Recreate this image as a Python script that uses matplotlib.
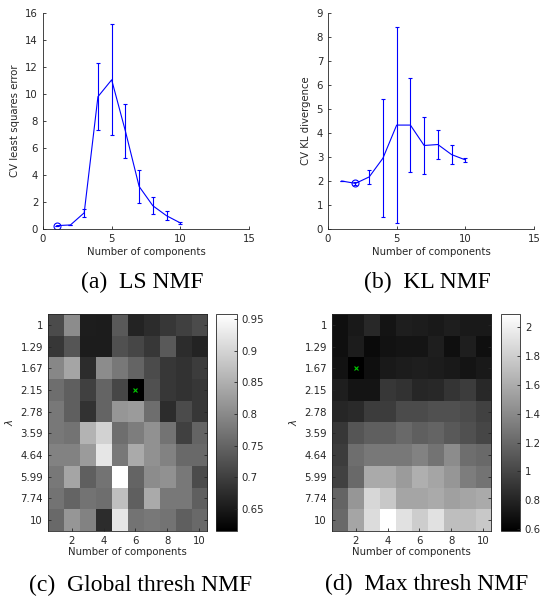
import numpy as np
import matplotlib
matplotlib.use("Agg")
import matplotlib.pyplot as plt

plt.rc("font", family="DejaVu Sans", size=7.3)

# ---- (a) LS NMF
n_comp = [1, 2, 3, 4, 5, 6, 7, 8, 9, 10]
ls_err = [0.25, 0.3, 1.2, 9.8, 11.05, 7.25, 3.15, 1.72, 0.98, 0.45]
ls_sd = [0.0, 0.02, 0.28, 2.5, 4.1, 2.0, 1.2, 0.63, 0.35, 0.05]
ls_best = 1

# ---- (b) KL NMF
kl_err = [2.0, 1.9, 2.17, 2.95, 4.33, 4.33, 3.48, 3.52, 3.1, 2.88]
kl_sd = [0.0, 0.05, 0.28, 2.47, 4.09, 1.96, 1.2, 0.62, 0.4, 0.07]
kl_best = 2

# ---- heatmaps
lambdas = ["1", "1.29", "1.67", "2.15", "2.78", "3.59", "4.64", "5.99", "7.74", "10"]

global_thresh = np.array([
    [0.716, 0.803, 0.655, 0.653, 0.736, 0.662, 0.676, 0.689, 0.702, 0.716],
    [0.689, 0.729, 0.653, 0.653, 0.723, 0.709, 0.689, 0.736, 0.676, 0.662],
    [0.797, 0.837, 0.676, 0.803, 0.776, 0.750, 0.716, 0.689, 0.682, 0.696],
    [0.763, 0.743, 0.702, 0.750, 0.709, 0.615, 0.723, 0.689, 0.682, 0.689],
    [0.776, 0.743, 0.682, 0.750, 0.817, 0.823, 0.763, 0.676, 0.716, 0.689],
    [0.776, 0.770, 0.857, 0.897, 0.763, 0.783, 0.810, 0.770, 0.702, 0.750],
    [0.790, 0.790, 0.823, 0.924, 0.776, 0.844, 0.810, 0.790, 0.756, 0.756],
    [0.776, 0.837, 0.743, 0.770, 0.958, 0.750, 0.803, 0.810, 0.776, 0.716],
    [0.770, 0.750, 0.770, 0.763, 0.871, 0.743, 0.844, 0.776, 0.776, 0.743],
    [0.756, 0.817, 0.790, 0.676, 0.924, 0.770, 0.776, 0.770, 0.743, 0.756],
])

max_thresh = np.array([
    [0.675, 0.734, 0.822, 0.704, 0.763, 0.751, 0.734, 0.763, 0.734, 0.734],
    [0.675, 0.751, 0.645, 0.692, 0.704, 0.704, 0.763, 0.675, 0.763, 0.675],
    [0.692, 0.586, 0.675, 0.734, 0.751, 0.763, 0.751, 0.734, 0.704, 0.734],
    [0.763, 0.704, 0.704, 0.911, 0.882, 0.811, 0.822, 0.893, 0.941, 0.822],
    [0.811, 0.834, 0.941, 0.941, 1.029, 1.029, 1.059, 1.059, 1.029, 0.970],
    [0.911, 1.088, 1.147, 1.147, 1.207, 1.147, 1.177, 1.118, 1.059, 1.000],
    [0.941, 1.236, 1.295, 1.295, 1.295, 1.354, 1.266, 1.413, 1.236, 1.207],
    [0.970, 1.207, 1.591, 1.591, 1.502, 1.620, 1.561, 1.473, 1.325, 1.266],
    [1.177, 1.473, 1.857, 1.768, 1.561, 1.561, 1.591, 1.532, 1.561, 1.591],
    [1.207, 1.561, 1.886, 2.093, 1.916, 1.798, 1.916, 1.709, 1.709, 1.768],
])

W, H = 542, 599
ink = "#262626"


def box(l, t, r, b):
    return [l / W, 1 - b / H, (r - l) / W, (b - t) / H]


def style(ax):
    ax.tick_params(direction="in", length=2.5, width=0.6, colors=ink, labelsize=7.3)
    for s in ax.spines.values():
        s.set_color(ink)
        s.set_linewidth(0.6)


def caption(x, y, s):
    fig.text(x / W, 1 - y / H, s, ha="center", va="center",
             family="Liberation Serif", fontsize=17)


fig = plt.figure(figsize=(W / 100, H / 100), dpi=100)

# line plots
for pos, y, e, best, ymax, ylab in [
    (box(43, 13, 249, 229), ls_err, ls_sd, ls_best, 16, "CV least squares error"),
    (box(328, 13, 534, 229), kl_err, kl_sd, kl_best, 9, "CV KL divergence"),
]:
    ax = fig.add_axes(pos)
    ax.errorbar(n_comp, y, yerr=e, color="blue", lw=0.8, elinewidth=0.8,
                capsize=1.5, capthick=0.8)
    ax.plot(best, y[n_comp.index(best)], "o", mfc="none", mec="blue", ms=5, mew=0.8)
    ax.set_xlim(0, 15)
    ax.set_ylim(0, ymax)
    ax.set_xticks([0, 5, 10, 15])
    ax.set_yticks(range(0, ymax + 1, 2 if ymax > 10 else 1))
    ax.spines["top"].set_visible(False)
    ax.spines["right"].set_visible(False)
    style(ax)
    ax.set_xlabel("Number of components", color=ink, labelpad=2)
    ax.set_ylabel(ylab, color=ink, labelpad=4)

caption(142, 282, "(a)  LS NMF")
caption(427, 282, "(b)  KL NMF")

# heatmaps
for pos, cpos, data, cticks in [
    (box(48, 314, 207, 531), box(216, 314, 237, 531), global_thresh,
     [0.65, 0.7, 0.75, 0.8, 0.85, 0.9, 0.95]),
    (box(332, 314, 491, 531), box(501, 314, 520, 531), max_thresh,
     [0.6, 0.8, 1, 1.2, 1.4, 1.6, 1.8, 2]),
]:
    ax = fig.add_axes(pos)
    im = ax.imshow(data, cmap="gray", aspect="auto", interpolation="nearest",
                   extent=[0.5, 10.5, 10.5, 0.5])
    r, c = np.unravel_index(np.argmin(data), data.shape)
    ax.plot(c + 1, r + 1, "x", color="#00cc00", ms=3.5, mew=0.8)
    ax.set_xticks([2, 4, 6, 8, 10])
    ax.set_yticks(range(1, 11))
    ax.set_yticklabels(lambdas)
    ax.tick_params(right=True)
    style(ax)
    ax.set_xlabel("Number of components", color=ink, labelpad=1)
    ax.set_ylabel(r"$\lambda$", color=ink, labelpad=4)
    cax = fig.add_axes(cpos)
    cb = fig.colorbar(im, cax=cax, ticks=cticks)
    cb.ax.set_yticklabels([f"{t:g}" for t in cticks])
    style(cax)
    cb.outline.set_edgecolor(ink)
    cb.outline.set_linewidth(0.6)

caption(141, 585, "(c)  Global thresh NMF")
caption(427, 584, "(d)  Max thresh NMF")

fig.savefig("out.png", dpi=100)
